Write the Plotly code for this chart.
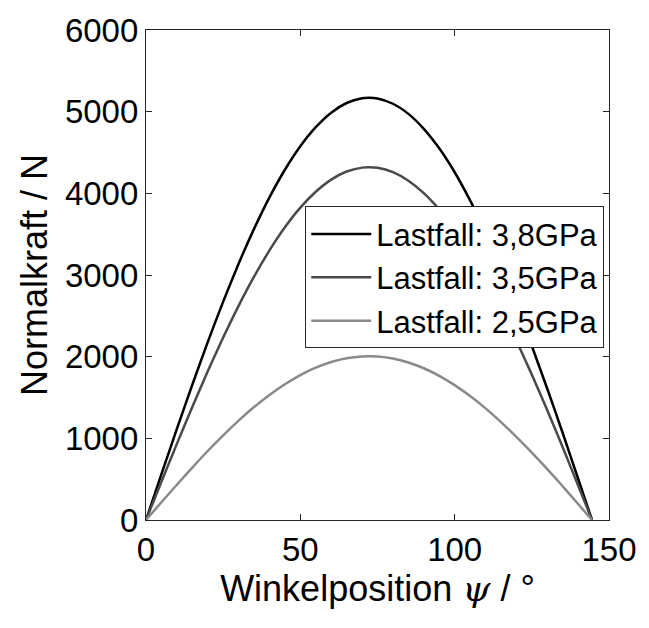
import plotly.graph_objects as go

psi = [0, 5, 10, 15, 20, 25, 30, 35, 40, 45, 50, 55, 60, 65, 70, 72.25,
       75, 80, 85, 90, 95, 100, 105, 110, 115, 120, 125, 130, 135, 140, 144.5]

f_38 = [0, 561, 1115, 1656, 2178, 2674, 3138, 3565, 3951, 4289, 4577, 4810, 4988, 5106, 5164, 5170,
        5161, 5097, 4973, 4790, 4551, 4258, 3913, 3525, 3093, 2626, 2130, 1607, 1065, 505, 0]
f_35 = [0, 469, 932, 1384, 1820, 2234, 2622, 2979, 3301, 3584, 3825, 4019, 4168, 4267, 4315, 4320,
        4313, 4259, 4155, 4003, 3803, 3558, 3270, 2945, 2585, 2194, 1780, 1343, 890, 422, 0]
f_25 = [0, 218, 432, 642, 845, 1037, 1217, 1383, 1532, 1663, 1775, 1865, 1934, 1980, 2003, 2005,
        2001, 1977, 1929, 1858, 1765, 1651, 1517, 1367, 1199, 1018, 826, 623, 413, 196, 0]

names = ["Lastfall: 3,8GPa", "Lastfall: 3,5GPa", "Lastfall: 2,5GPa"]
colors = ["#000000", "#4a4a4a", "#8a8a8a"]

fig = go.Figure()
for ys, nm, c in zip([f_38, f_35, f_25], names, colors):
    fig.add_trace(go.Scatter(x=psi, y=ys, mode="lines", name=nm,
                             line=dict(color=c, width=2.5, shape="spline", smoothing=0.6)))

font = "Liberation Sans, Arial, sans-serif"
axis_common = dict(showgrid=False, zeroline=False, showline=True, mirror="ticks",
                   linecolor="#262626", linewidth=1.2, ticks="inside", ticklen=6,
                   tickcolor="#262626", tickfont=dict(family=font, size=33, color="#000"))

fig.update_layout(
    width=649, height=628,
    margin=dict(l=146, r=29, t=20, b=108),
    paper_bgcolor="white", plot_bgcolor="white",
    font=dict(family=font, size=30, color="#000"),
    xaxis=dict(range=[0, 150], tickvals=[0, 50, 100, 150], **axis_common,
               title=dict(text="Winkelposition <i><span style='font-family:DejaVu Serif'>ψ</span></i> / °",
                          font=dict(family=font, size=36), standoff=6)),
    yaxis=dict(range=[0, 6000], tickvals=[0, 1000, 2000, 3000, 4000, 5000, 6000], **axis_common,
               title=dict(text="Normalkraft / N", font=dict(family=font, size=36), standoff=6)),
    legend=dict(x=0.344, y=0.64, xanchor="left", yanchor="top",
                bgcolor="white", bordercolor="#262626", borderwidth=1,
                font=dict(family=font, size=31), itemwidth=60, tracegroupgap=0),
    showlegend=True,
)

fig.write_html("out.html")
